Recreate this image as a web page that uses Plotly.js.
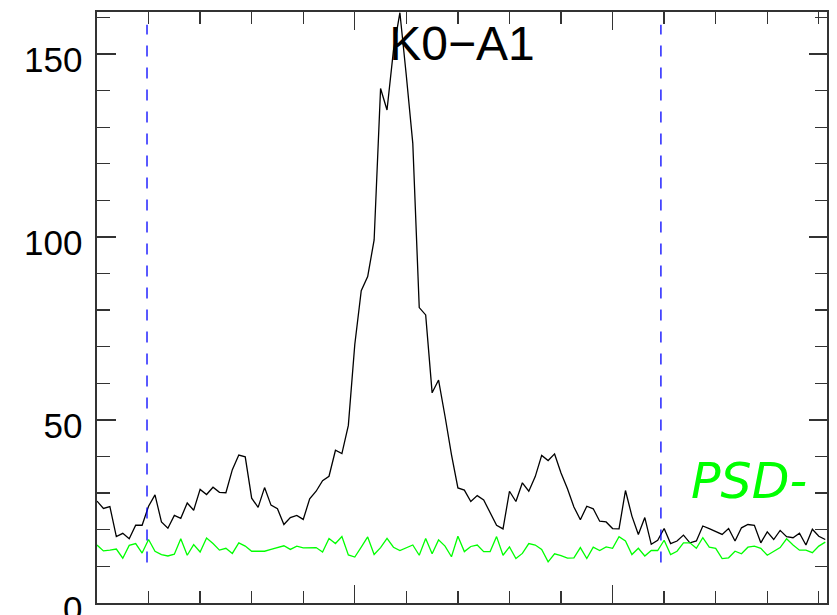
<!DOCTYPE html>
<html>
<head>
<meta charset="utf-8">
<script src="https://cdn.plot.ly/plotly-3.0.1.min.js"></script>
<style>
  html, body { margin: 0; padding: 0; background: #ffffff; overflow: hidden; }
  #chart { width: 837px; height: 615px; }
</style>
</head>
<body>
<div id="chart"></div>
<script>
// Power spectrum of channel K0-A1 (black) and the PSD- reference spectrum (green),
// sampled on a regular bin index.
const blackPSD = [
  27.8, 25.8, 26.3, 18.1, 19.0, 17.5, 21.2, 21.2, 26.4, 29.5,
  22.1, 20.4, 23.9, 23.1, 27.3, 25.3, 31.0, 29.6, 31.6, 30.2,
  30.1, 36.4, 40.4, 39.9, 28.6, 26.1, 31.5, 26.7, 25.7, 21.4,
  23.3, 23.9, 22.8, 28.4, 30.5, 33.4, 34.6, 41.7, 40.8, 48.5,
  70.6, 85.3, 89.2, 99.2, 140.6, 134.7, 151.0, 161.3, 144.0, 125.6,
  80.7, 78.7, 57.4, 60.9, 51.0, 40.5, 31.4, 30.8, 27.7, 29.3,
  28.1, 24.8, 21.2, 20.2, 30.5, 27.7, 32.8, 30.5, 34.5, 40.3,
  38.9, 40.7, 35.5, 31.2, 26.2, 22.7, 26.4, 25.7, 22.3, 22.1,
  20.3, 20.2, 30.7, 23.7, 18.7, 23.3, 16.0, 17.1, 20.3, 16.2,
  16.9, 18.5, 16.4, 16.9, 21.0, 20.3, 19.4, 18.7, 20.3, 16.9,
  20.5, 21.4, 21.2, 16.4, 19.4, 17.3, 19.8, 18.1, 17.8, 19.0,
  15.8, 20.1, 18.2, 17.3
];

const greenPSD = [
  15.8, 14.2, 14.4, 14.7, 12.2, 15.7, 16.2, 13.6, 17.3, 14.1,
  13.2, 12.8, 13.3, 17.5, 13.0, 15.9, 13.9, 17.7, 16.2, 14.4,
  14.9, 13.5, 16.4, 15.5, 14.1, 14.1, 14.1, 14.6, 15.1, 15.6,
  14.6, 15.5, 15.0, 15.1, 15.1, 13.9, 17.6, 16.2, 18.1, 13.1,
  12.5, 15.2, 18.0, 13.2, 15.1, 17.6, 15.2, 14.3, 15.0, 15.8,
  13.0, 17.6, 13.4, 17.2, 15.5, 12.6, 18.2, 14.0, 15.4, 15.8,
  14.0, 14.0, 18.1, 13.0, 15.3, 12.1, 13.5, 16.2, 15.8, 14.6,
  11.2, 13.4, 12.9, 12.2, 12.3, 15.1, 12.1, 15.2, 14.3, 15.3,
  14.9, 18.1, 16.9, 13.2, 14.9, 12.8, 14.3, 14.3, 17.1, 13.2,
  14.1, 16.4, 16.4, 14.9, 17.8, 15.2, 14.9, 12.1, 12.3, 14.1,
  13.4, 15.2, 15.5, 14.9, 13.0, 14.1, 15.1, 17.5, 15.8, 14.4,
  14.4, 13.7, 15.5, 16.6
];

// Band limits (bin index) and the vertical extent of the marker lines
const bandLimits = [7.76, 87.5];
const bandSpan = [11, 158];

const yTickVals = [0, 50, 100, 150];
const yTickText = ['0', '50', '100', '150'];

const axisColor = '#333333';
const labelFont = 'Liberation Sans, Arial, Helvetica, sans-serif';

const traces = [
  {
    type: 'scatter', mode: 'lines', y: blackPSD,
    line: { color: '#000000', width: 1.3 },
    hoverinfo: 'skip'
  },
  {
    type: 'scatter', mode: 'lines', y: greenPSD,
    line: { color: '#00ff00', width: 1.3 },
    hoverinfo: 'skip'
  }
];

bandLimits.forEach(function (xb) {
  traces.push({
    type: 'scatter', mode: 'lines',
    x: [xb, xb], y: bandSpan,
    line: { color: '#0000ff', width: 1.3, dash: '11px,11px' },
    hoverinfo: 'skip'
  });
});

const layout = {
  width: 837,
  height: 615,
  margin: { l: 97, r: 10, t: 12, b: 12, pad: 0 },
  paper_bgcolor: '#ffffff',
  plot_bgcolor: '#ffffff',
  showlegend: false,
  title: {
    text: 'K0\u2212A1',
    font: { family: labelFont, size: 48, color: '#000000' },
    x: 0.5, xref: 'paper', xanchor: 'center',
    y: 0.929, yref: 'container', yanchor: 'middle'
  },
  xaxis: {
    range: [0, 113.27],
    tick0: 0, dtick: 40,
    ticks: 'inside', ticklen: 18, tickwidth: 1.3, tickcolor: axisColor,
    minor: { tick0: 0, dtick: 8, ticks: 'inside', ticklen: 12, tickwidth: 1.3, tickcolor: axisColor, showgrid: false },
    showline: true, linecolor: axisColor, linewidth: 1.6, mirror: 'allticks',
    showgrid: false, zeroline: false, showticklabels: false
  },
  yaxis: {
    range: [-0.05, 161.5],
    tickmode: 'array', tickvals: yTickVals, ticktext: yTickText,
    ticks: 'inside', ticklen: 18.5, tickwidth: 1.3, tickcolor: axisColor,
    minor: { tick0: 0, dtick: 10, ticks: 'inside', ticklen: 12.5, tickwidth: 1.3, tickcolor: axisColor, showgrid: false },
    showline: true, linecolor: axisColor, linewidth: 1.6, mirror: 'allticks',
    showgrid: false, zeroline: false,
    tickfont: { family: labelFont, size: 35, color: '#000000' },
    ticklabelstandoff: 6, ticklabelshift: 6,
    ticklabeloverflow: 'allow'
  },
  annotations: [
    {
      text: '<i>PSD-</i>',
      xref: 'paper', yref: 'paper',
      x: 0.8936, y: 0.2056,
      xanchor: 'center', yanchor: 'middle',
      showarrow: false,
      font: { family: 'DejaVu Sans, Verdana, sans-serif', size: 49, color: '#00ff00' }
    }
  ]
};

Plotly.newPlot('chart', traces, layout, { staticPlot: true, displayModeBar: false });
</script>
</body>
</html>
